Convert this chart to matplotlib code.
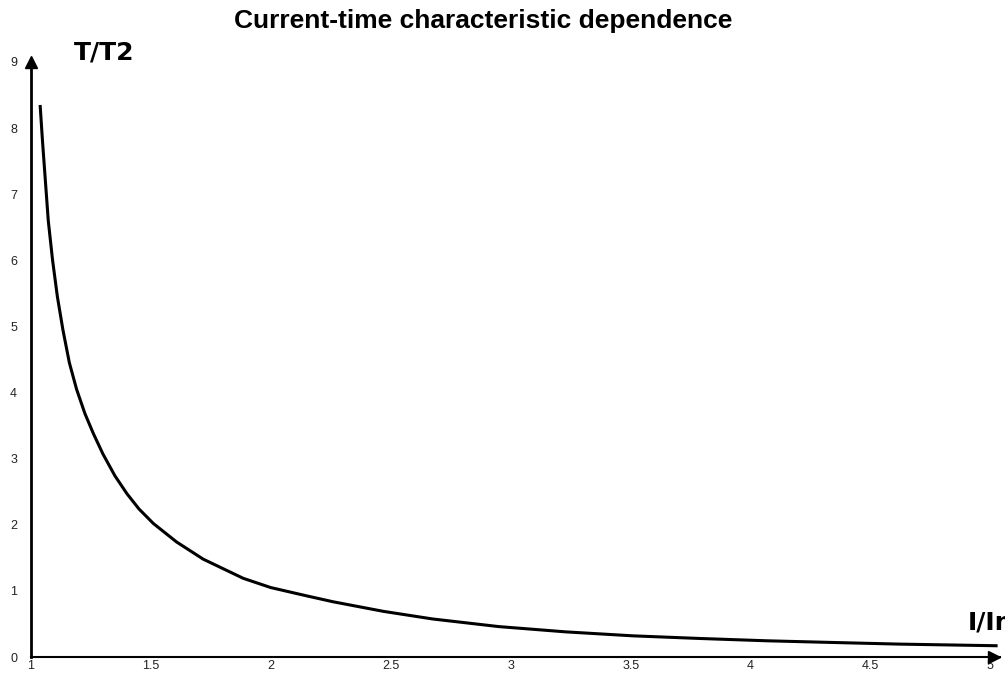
import matplotlib.pyplot as plt
import numpy as np

# ratio I/In and T/T2
current_ratio = [1.038, 1.048, 1.058, 1.072, 1.09, 1.11, 1.133, 1.16, 1.19, 1.225,
                 1.26, 1.30, 1.35, 1.40, 1.45, 1.51, 1.607, 1.718, 1.885, 2.0,
                 2.149, 2.26, 2.47, 2.675, 2.95, 3.23, 3.51, 3.79, 4.07, 4.34,
                 4.62, 5.03]
time_ratio = [8.35, 7.8, 7.3, 6.6, 6.0, 5.45, 4.95, 4.45, 4.05, 3.68,
              3.38, 3.07, 2.74, 2.47, 2.24, 2.02, 1.74, 1.48, 1.19, 1.05,
              0.925, 0.835, 0.69, 0.575, 0.46, 0.38, 0.32, 0.28, 0.245, 0.22,
              0.195, 0.17]
x_ticks = [1, 1.5, 2, 2.5, 3, 3.5, 4, 4.5, 5]
x_tick_labels = ['1', '1.5', '2', '2.5', '3', '3.5', '4', '4.5', '5']
y_ticks = [0, 1, 2, 3, 4, 5, 6, 7, 8, 9]

plt.rcParams['font.family'] = ['Liberation Sans', 'DejaVu Sans']

fig = plt.figure(figsize=(10.05, 6.75), dpi=100)
ax = fig.add_axes([31/1005, 18/675, 969/1005, 595/675])

ax.plot(current_ratio, time_ratio, color='black', linewidth=2.2,
        solid_joinstyle='round', solid_capstyle='butt')

ax.set_xlim(1, 5.04)
ax.set_ylim(0, 9)
ax.spines['top'].set_visible(False)
ax.spines['right'].set_visible(False)
ax.spines['left'].set_linewidth(2)
ax.spines['bottom'].set_linewidth(1.5)

# arrow heads on the axes
ax.plot(0.9943, 0, '>k', markersize=8, transform=ax.transAxes, clip_on=False)
ax.plot(0, 1, '^k', markersize=8, transform=ax.transAxes, clip_on=False)

ax.set_xticks(x_ticks)
ax.set_xticklabels(x_tick_labels)
ax.set_yticks(y_ticks)
ax.tick_params(length=0, labelsize=9, colors='#222222')
ax.tick_params(axis='x', pad=2)
ax.tick_params(axis='y', pad=10)

ax.text(1.179, 9.045, 'T/T2', fontsize=18, fontweight='bold',
        family='DejaVu Sans', va='baseline', clip_on=False)
ax.text(4.904, 0.41, 'I/In', fontsize=18, fontweight='bold',
        family='DejaVu Sans', va='baseline', clip_on=False)

fig.suptitle('Current-time characteristic dependence', x=0.481, y=0.986,
             fontsize=19, fontweight='bold', va='top')

plt.savefig('out.png', dpi=100)
